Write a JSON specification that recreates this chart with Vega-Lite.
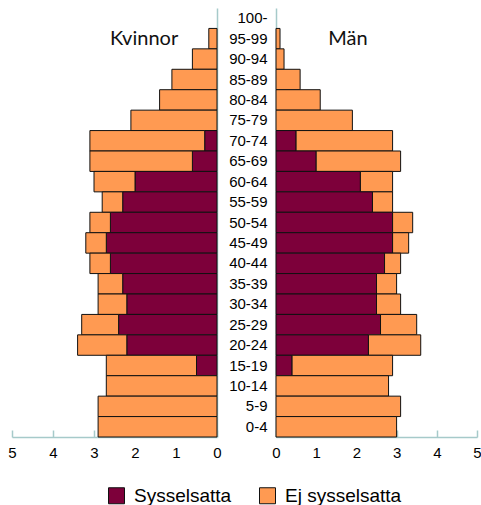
{
  "$schema": "https://vega.github.io/schema/vega-lite/v6.json",
  "padding": {"left": 7, "top": 8, "right": 0, "bottom": 0},
  "background": "white",
  "datasets": {
    "pop": [
      {"sex": "Kvinnor", "age": "95-99", "status": "Ej sysselsatta", "value": 0.2},
      {"sex": "Kvinnor", "age": "90-94", "status": "Ej sysselsatta", "value": 0.6},
      {"sex": "Kvinnor", "age": "85-89", "status": "Ej sysselsatta", "value": 1.1},
      {"sex": "Kvinnor", "age": "80-84", "status": "Ej sysselsatta", "value": 1.4},
      {"sex": "Kvinnor", "age": "75-79", "status": "Ej sysselsatta", "value": 2.1},
      {"sex": "Kvinnor", "age": "70-74", "status": "Sysselsatta", "value": 0.3},
      {"sex": "Kvinnor", "age": "70-74", "status": "Ej sysselsatta", "value": 2.8},
      {"sex": "Kvinnor", "age": "65-69", "status": "Sysselsatta", "value": 0.6},
      {"sex": "Kvinnor", "age": "65-69", "status": "Ej sysselsatta", "value": 2.5},
      {"sex": "Kvinnor", "age": "60-64", "status": "Sysselsatta", "value": 2.0},
      {"sex": "Kvinnor", "age": "60-64", "status": "Ej sysselsatta", "value": 1.0},
      {"sex": "Kvinnor", "age": "55-59", "status": "Sysselsatta", "value": 2.3},
      {"sex": "Kvinnor", "age": "55-59", "status": "Ej sysselsatta", "value": 0.5},
      {"sex": "Kvinnor", "age": "50-54", "status": "Sysselsatta", "value": 2.6},
      {"sex": "Kvinnor", "age": "50-54", "status": "Ej sysselsatta", "value": 0.5},
      {"sex": "Kvinnor", "age": "45-49", "status": "Sysselsatta", "value": 2.7},
      {"sex": "Kvinnor", "age": "45-49", "status": "Ej sysselsatta", "value": 0.5},
      {"sex": "Kvinnor", "age": "40-44", "status": "Sysselsatta", "value": 2.6},
      {"sex": "Kvinnor", "age": "40-44", "status": "Ej sysselsatta", "value": 0.5},
      {"sex": "Kvinnor", "age": "35-39", "status": "Sysselsatta", "value": 2.3},
      {"sex": "Kvinnor", "age": "35-39", "status": "Ej sysselsatta", "value": 0.6},
      {"sex": "Kvinnor", "age": "30-34", "status": "Sysselsatta", "value": 2.2},
      {"sex": "Kvinnor", "age": "30-34", "status": "Ej sysselsatta", "value": 0.7},
      {"sex": "Kvinnor", "age": "25-29", "status": "Sysselsatta", "value": 2.4},
      {"sex": "Kvinnor", "age": "25-29", "status": "Ej sysselsatta", "value": 0.9},
      {"sex": "Kvinnor", "age": "20-24", "status": "Sysselsatta", "value": 2.2},
      {"sex": "Kvinnor", "age": "20-24", "status": "Ej sysselsatta", "value": 1.2},
      {"sex": "Kvinnor", "age": "15-19", "status": "Sysselsatta", "value": 0.5},
      {"sex": "Kvinnor", "age": "15-19", "status": "Ej sysselsatta", "value": 2.2},
      {"sex": "Kvinnor", "age": "10-14", "status": "Ej sysselsatta", "value": 2.7},
      {"sex": "Kvinnor", "age": "5-9", "status": "Ej sysselsatta", "value": 2.9},
      {"sex": "Kvinnor", "age": "0-4", "status": "Ej sysselsatta", "value": 2.9},
      {"sex": "Män", "age": "95-99", "status": "Ej sysselsatta", "value": 0.1},
      {"sex": "Män", "age": "90-94", "status": "Ej sysselsatta", "value": 0.2},
      {"sex": "Män", "age": "85-89", "status": "Ej sysselsatta", "value": 0.6},
      {"sex": "Män", "age": "80-84", "status": "Ej sysselsatta", "value": 1.1},
      {"sex": "Män", "age": "75-79", "status": "Ej sysselsatta", "value": 1.9},
      {"sex": "Män", "age": "70-74", "status": "Sysselsatta", "value": 0.5},
      {"sex": "Män", "age": "70-74", "status": "Ej sysselsatta", "value": 2.4},
      {"sex": "Män", "age": "65-69", "status": "Sysselsatta", "value": 1.0},
      {"sex": "Män", "age": "65-69", "status": "Ej sysselsatta", "value": 2.1},
      {"sex": "Män", "age": "60-64", "status": "Sysselsatta", "value": 2.1},
      {"sex": "Män", "age": "60-64", "status": "Ej sysselsatta", "value": 0.8},
      {"sex": "Män", "age": "55-59", "status": "Sysselsatta", "value": 2.4},
      {"sex": "Män", "age": "55-59", "status": "Ej sysselsatta", "value": 0.5},
      {"sex": "Män", "age": "50-54", "status": "Sysselsatta", "value": 2.9},
      {"sex": "Män", "age": "50-54", "status": "Ej sysselsatta", "value": 0.5},
      {"sex": "Män", "age": "45-49", "status": "Sysselsatta", "value": 2.9},
      {"sex": "Män", "age": "45-49", "status": "Ej sysselsatta", "value": 0.4},
      {"sex": "Män", "age": "40-44", "status": "Sysselsatta", "value": 2.7},
      {"sex": "Män", "age": "40-44", "status": "Ej sysselsatta", "value": 0.4},
      {"sex": "Män", "age": "35-39", "status": "Sysselsatta", "value": 2.5},
      {"sex": "Män", "age": "35-39", "status": "Ej sysselsatta", "value": 0.5},
      {"sex": "Män", "age": "30-34", "status": "Sysselsatta", "value": 2.5},
      {"sex": "Män", "age": "30-34", "status": "Ej sysselsatta", "value": 0.6},
      {"sex": "Män", "age": "25-29", "status": "Sysselsatta", "value": 2.6},
      {"sex": "Män", "age": "25-29", "status": "Ej sysselsatta", "value": 0.9},
      {"sex": "Män", "age": "20-24", "status": "Sysselsatta", "value": 2.3},
      {"sex": "Män", "age": "20-24", "status": "Ej sysselsatta", "value": 1.3},
      {"sex": "Män", "age": "15-19", "status": "Sysselsatta", "value": 0.4},
      {"sex": "Män", "age": "15-19", "status": "Ej sysselsatta", "value": 2.5},
      {"sex": "Män", "age": "10-14", "status": "Ej sysselsatta", "value": 2.8},
      {"sex": "Män", "age": "5-9", "status": "Ej sysselsatta", "value": 3.1},
      {"sex": "Män", "age": "0-4", "status": "Ej sysselsatta", "value": 3.0}
    ],
    "titles": [
      {"sex": "Kvinnor", "label": "Kvinnor", "x": 1.78, "age": "95-99"},
      {"sex": "Män", "label": "Män", "x": 1.79, "age": "95-99"}
    ]
  },
  "spacing": 59,
  "bounds": "flush",
  "hconcat": [
    {
      "width": 205,
      "height": 429,
      "layer": [
        {
          "data": {"name": "pop"},
          "transform": [{"filter": "datum.sex === 'Kvinnor'"}],
          "mark": {"type": "bar", "stroke": "#111", "strokeWidth": 1},
          "encoding": {
            "y": {"field": "age", "type": "ordinal",
              "scale": {"domain": ["100-","95-99","90-94","85-89","80-84","75-79","70-74","65-69","60-64","55-59","50-54","45-49","40-44","35-39","30-34","25-29","20-24","15-19","10-14","5-9","0-4"], "paddingInner": 0, "paddingOuter": 0},
              "axis": {"orient": "right", "labels": false, "ticks": false, "title": null}},
            "x": {"field": "value", "type": "quantitative", "stack": "zero",
              "scale": {"domain": [0, 5], "reverse": true, "nice": false},
              "axis": {"values": [0,1,2,3,4,5], "tickCount": 6, "format": "d", "tickSize": -7, "labelPadding": 15, "labelOverlap": false, "labelBound": false, "title": null}},
            "color": {"field": "status", "type": "nominal",
              "scale": {"domain": ["Sysselsatta", "Ej sysselsatta"], "range": ["#7D003A", "#FF9A52"]},
              "legend": {"title": null, "orient": "none", "legendX": 95, "legendY": 478, "direction": "horizontal",
                "symbolType": "square", "symbolSize": 256, "symbolStrokeColor": "#222", "symbolStrokeWidth": 1,
                "labelFont": "Liberation Sans", "labelFontSize": 19, "labelColor": "#000", "labelOffset": 8, "columnPadding": 25}},
            "order": {"field": "status", "sort": "descending"}
          }
        },
        {
          "data": {"name": "titles"},
          "transform": [{"filter": "datum.sex === 'Kvinnor'"}],
          "mark": {"type": "text", "font": "Lato", "fontSize": 20, "color": "#111"},
          "encoding": {
            "x": {"field": "x", "type": "quantitative",
              "axis": {"values": [0,1,2,3,4,5], "tickCount": 6, "format": "d", "tickSize": -7, "labelPadding": 15, "labelOverlap": false, "labelBound": false, "title": null}},
            "y": {"field": "age", "type": "ordinal",
              "axis": {"orient": "right", "labels": false, "ticks": false, "title": null}},
            "text": {"field": "label"}
          }
        }
      ]
    },
    {
      "width": 201,
      "height": 429,
      "layer": [
        {
          "data": {"name": "pop"},
          "transform": [{"filter": "datum.sex === 'Män'"}],
          "mark": {"type": "bar", "stroke": "#111", "strokeWidth": 1},
          "encoding": {
            "y": {"field": "age", "type": "ordinal",
              "scale": {"domain": ["100-","95-99","90-94","85-89","80-84","75-79","70-74","65-69","60-64","55-59","50-54","45-49","40-44","35-39","30-34","25-29","20-24","15-19","10-14","5-9","0-4"], "paddingInner": 0, "paddingOuter": 0},
              "axis": {"orient": "left", "ticks": false, "labelAlign": "right", "labelPadding": 9, "title": null}},
            "x": {"field": "value", "type": "quantitative", "stack": "zero",
              "scale": {"domain": [0, 5], "nice": false},
              "axis": {"values": [0,1,2,3,4,5], "tickCount": 6, "format": "d", "tickSize": -7, "labelPadding": 15, "labelOverlap": false, "labelBound": false, "title": null}},
            "color": {"field": "status", "type": "nominal"},
            "order": {"field": "status", "sort": "descending"}
          }
        },
        {
          "data": {"name": "titles"},
          "transform": [{"filter": "datum.sex === 'Män'"}],
          "mark": {"type": "text", "font": "Lato", "fontSize": 20, "color": "#111"},
          "encoding": {
            "x": {"field": "x", "type": "quantitative",
              "axis": {"values": [0,1,2,3,4,5], "tickCount": 6, "format": "d", "tickSize": -7, "labelPadding": 15, "labelOverlap": false, "labelBound": false, "title": null}},
            "y": {"field": "age", "type": "ordinal",
              "axis": {"orient": "left", "ticks": false, "labelAlign": "right", "labelPadding": 9, "title": null}},
            "text": {"field": "label"}
          }
        }
      ]
    }
  ],
  "config": {
    "view": {"stroke": null},
    "axis": {
      "labelFont": "Liberation Sans", "labelFontSize": 15, "labelColor": "#000",
      "domainColor": "#A6CACA", "tickColor": "#A6CACA", "domainWidth": 1.5, "tickWidth": 1.5, "grid": false,
      "labelFlush": false, "labelOverlap": false, "labelBound": false
    }
  }
}
